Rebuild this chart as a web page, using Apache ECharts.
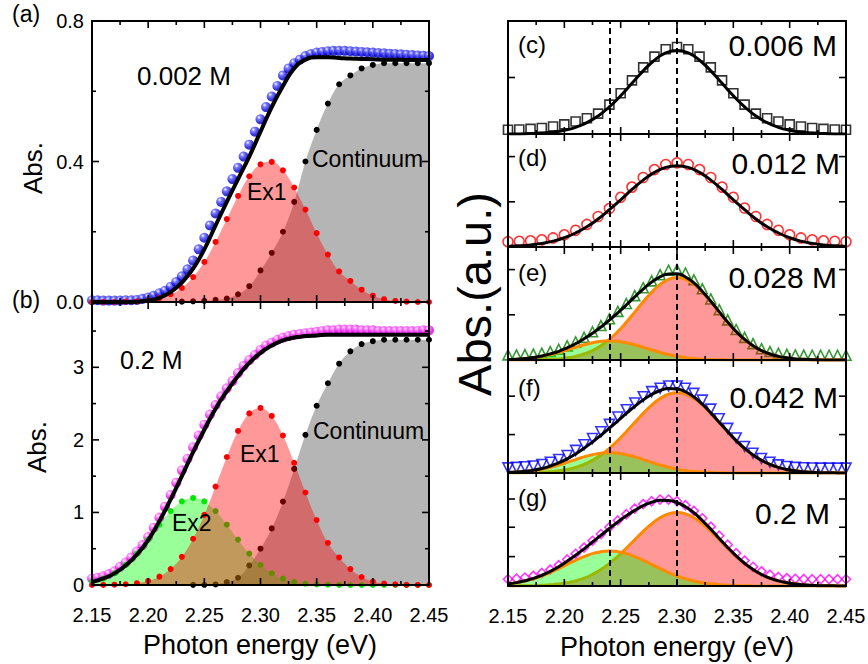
<!DOCTYPE html>
<html>
<head>
<meta charset="utf-8">
<script src="https://cdn.jsdelivr.net/npm/echarts@6/dist/echarts.min.js"></script>
<style>
  html, body { margin: 0; padding: 0; background: #fff; }
  #chart { width: 868px; height: 664px; }
</style>
</head>
<body>
<div id="chart"></div>
<script>
// energy grids (eV)
const x05 = [2.15,2.155,2.16,2.165,2.17,2.175,2.18,2.185,2.19,2.195,2.2,2.205,2.21,2.215,2.22,2.225,2.23,2.235,2.24,2.245,2.25,2.255,2.26,2.265,2.27,2.275,2.28,2.285,2.29,2.295,2.3,2.305,2.31,2.315,2.32,2.325,2.33,2.335,2.34,2.345,2.35,2.355,2.36,2.365,2.37,2.375,2.38,2.385,2.39,2.395,2.4,2.405,2.41,2.415,2.42,2.425,2.43,2.435,2.44,2.445,2.45]
const x01 = [2.15,2.16,2.17,2.18,2.19,2.2,2.21,2.22,2.23,2.24,2.25,2.26,2.27,2.28,2.29,2.3,2.31,2.32,2.33,2.34,2.35,2.36,2.37,2.38,2.39,2.4,2.41,2.42,2.43,2.44,2.45]
const x075 = [2.15,2.1575,2.165,2.1725,2.18,2.1875,2.195,2.2025,2.21,2.2175,2.225,2.2325,2.24,2.2475,2.255,2.2625,2.27,2.2775,2.285,2.2925,2.3,2.3075,2.315,2.3225,2.33,2.3375,2.345,2.3525,2.36,2.3675,2.375,2.3825,2.39,2.3975,2.405,2.4125,2.42,2.4275,2.435,2.4425,2.45]
const dashedAt = [2.24, 2.30]

// tick positions
const xMajor = [2.15, 2.2, 2.25, 2.3, 2.35, 2.4, 2.45]
const xMinor = [2.175, 2.225, 2.275, 2.325, 2.375, 2.425]
const aMajor = [0, 0.4, 0.8]
const aMinor = [0.2, 0.6]
const bMajor = [0, 1, 2, 3]
const bMinor = [0.5, 1.5, 2.5, 3.5]
const cTicks = [0.5]
const dTicks = [0.4, 0.8]
const eTicks = [0.4, 0.8]
const fTicks = [0.34, 0.68]
const gTicks = [0.26, 0.52, 0.77]

// (a) 0.002 M
const aData = [0.005,0.005,0.004,0.004,0.004,0.004,0.005,0.005,0.006,0.009,0.013,0.018,0.025,0.032,0.043,0.057,0.073,0.093,0.118,0.15,0.183,0.218,0.252,0.285,0.315,0.35,0.382,0.414,0.448,0.485,0.52,0.555,0.585,0.615,0.645,0.665,0.68,0.69,0.7,0.706,0.71,0.712,0.714,0.715,0.715,0.715,0.714,0.713,0.712,0.711,0.71,0.709,0.708,0.707,0.706,0.705,0.704,0.703,0.702,0.701,0.7]
const aFit = [0,0,0,0,0.001,0.004,0.012,0.028,0.055,0.095,0.15,0.218,0.285,0.35,0.414,0.485,0.555,0.615,0.665,0.69,0.697,0.697,0.695,0.693,0.692,0.691,0.69,0.69,0.689,0.689,0.689]
const aEx1 = [0,0,0,0.001,0.002,0.005,0.011,0.022,0.04,0.071,0.114,0.171,0.236,0.302,0.358,0.392,0.399,0.375,0.326,0.263,0.196,0.135,0.087,0.06,0.035,0.018,0.008,0.003,0.001,0,0]
const aCont = [null,null,null,null,null,null,null,null,0.001,0.002,0.003,0.006,0.01,0.022,0.045,0.09,0.14,0.2,0.285,0.4,0.49,0.565,0.62,0.645,0.665,0.675,0.68,0.68,0.68,0.68,0.68]

// (b) 0.2 M
const bData = [0.09,0.10,0.12,0.15,0.19,0.25,0.31,0.38,0.46,0.55,0.66,0.79,0.93,1.08,1.24,1.41,1.58,1.74,1.90,2.06,2.21,2.35,2.48,2.60,2.71,2.81,2.92,3.02,3.10,3.17,3.24,3.30,3.34,3.38,3.41,3.43,3.45,3.46,3.47,3.48,3.49,3.50,3.51,3.51,3.52,3.52,3.52,3.52,3.51,3.51,3.51,3.50,3.50,3.50,3.50,3.50,3.50,3.50,3.50,3.51,3.51]
const bFit = [0.04,0.09,0.16,0.27,0.42,0.62,0.88,1.18,1.5,1.83,2.14,2.43,2.67,2.88,3.06,3.2,3.3,3.37,3.41,3.43,3.44,3.45,3.45,3.45,3.45,3.45,3.45,3.45,3.45,3.45,3.45]
const bEx1 = [0,0.001,0.004,0.01,0.025,0.056,0.115,0.219,0.388,0.637,0.966,1.357,1.764,2.123,2.365,2.44,2.33,2.06,1.684,1.275,0.895,0.58,0.38,0.22,0.11,0.048,0.021,0.009,0.003,0.001,0]
const bEx2 = [0.044,0.088,0.162,0.276,0.432,0.625,0.831,1.019,1.152,1.2,1.152,1.019,0.831,0.625,0.432,0.276,0.162,0.088,0.044,0.02,0.009,0.004,0.001,0,0,0,0,0,0,0,0]
const bCont = [null,null,null,null,null,null,null,null,null,0.002,0.003,0.008,0.04,0.1,0.27,0.5,0.78,1.15,1.6,2.07,2.47,2.78,3.05,3.22,3.32,3.36,3.38,3.38,3.38,3.38,3.38]

// (c) 0.006 M, (d) 0.012 M  (normalised)
const cData = [0.037,0.04,0.045,0.053,0.066,0.085,0.11,0.14,0.18,0.26,0.36,0.475,0.59,0.685,0.75,0.77,0.75,0.685,0.59,0.475,0.36,0.26,0.18,0.14,0.11,0.085,0.066,0.053,0.045,0.04,0.037]
const cFit = [0.001,0.001,0.004,0.008,0.017,0.033,0.059,0.1,0.16,0.24,0.339,0.449,0.559,0.653,0.717,0.74,0.717,0.653,0.559,0.449,0.339,0.24,0.16,0.1,0.059,0.033,0.017,0.008,0.004,0.001,0.001]
const dData = [0.047,0.05,0.055,0.064,0.08,0.108,0.148,0.2,0.27,0.34,0.44,0.53,0.615,0.685,0.73,0.745,0.73,0.685,0.615,0.53,0.44,0.345,0.27,0.2,0.148,0.108,0.08,0.064,0.055,0.05,0.047]
const dFit = [0.005,0.01,0.018,0.032,0.052,0.082,0.124,0.179,0.248,0.33,0.418,0.509,0.592,0.66,0.705,0.72,0.705,0.66,0.592,0.509,0.418,0.33,0.248,0.179,0.124,0.082,0.052,0.032,0.018,0.01,0.005]

// (e) 0.028 M
const eData = [0.045,0.045,0.048,0.052,0.06,0.075,0.095,0.125,0.16,0.2,0.25,0.305,0.365,0.43,0.5,0.57,0.64,0.7,0.755,0.795,0.8,0.77,0.71,0.63,0.54,0.445,0.355,0.27,0.2,0.145,0.1,0.075,0.06,0.05,0.045,0.043,0.042,0.042,0.042,0.042,0.042]
const eFit = [0.004,0.007,0.014,0.022,0.036,0.054,0.077,0.108,0.144,0.188,0.236,0.292,0.352,0.418,0.487,0.559,0.628,0.689,0.736,0.762,0.763,0.735,0.682,0.607,0.52,0.426,0.335,0.252,0.182,0.126,0.083,0.053,0.032,0.019,0.01,0.006,0.003,0.001,0.001,0,0]
const eEx1 = [0,0,0.001,0.001,0.003,0.006,0.01,0.019,0.032,0.053,0.083,0.126,0.182,0.252,0.334,0.424,0.516,0.6,0.669,0.714,0.73,0.714,0.669,0.6,0.516,0.424,0.334,0.252,0.182,0.126,0.083,0.053,0.032,0.019,0.01,0.006,0.003,0.001,0.001,0,0]
const eEx2 = [0.004,0.007,0.013,0.021,0.033,0.048,0.067,0.089,0.112,0.135,0.153,0.166,0.17,0.166,0.153,0.135,0.112,0.089,0.067,0.048,0.033,0.021,0.013,0.007,0.004,0.002,0.001,0,0,0,0,0,0,0,0,0,0,0,0,0,0]

// (f) 0.042 M
const fData = [0.045,0.05,0.055,0.062,0.075,0.095,0.12,0.155,0.2,0.25,0.305,0.365,0.43,0.495,0.56,0.62,0.675,0.72,0.75,0.77,0.77,0.75,0.705,0.645,0.565,0.48,0.395,0.31,0.235,0.175,0.128,0.095,0.072,0.058,0.05,0.046,0.044,0.043,0.043,0.043,0.043]
const fFit = [0.004,0.009,0.016,0.025,0.04,0.062,0.09,0.125,0.169,0.219,0.274,0.334,0.397,0.462,0.527,0.59,0.647,0.695,0.73,0.748,0.744,0.719,0.673,0.609,0.532,0.449,0.366,0.287,0.217,0.159,0.112,0.076,0.05,0.031,0.019,0.011,0.006,0.003,0.002,0.001,0]
const fEx1 = [0,0.001,0.002,0.003,0.006,0.011,0.019,0.031,0.05,0.076,0.112,0.159,0.217,0.287,0.365,0.447,0.528,0.601,0.659,0.697,0.71,0.697,0.659,0.601,0.528,0.447,0.365,0.287,0.217,0.159,0.112,0.076,0.05,0.031,0.019,0.011,0.006,0.003,0.002,0.001,0]
const fEx2 = [0.004,0.008,0.014,0.022,0.034,0.051,0.071,0.094,0.119,0.143,0.162,0.175,0.18,0.175,0.162,0.143,0.119,0.094,0.071,0.051,0.034,0.022,0.014,0.008,0.004,0.002,0.001,0,0,0,0,0,0,0,0,0,0,0,0,0,0]

// (g) 0.2 M
const gData = [0.06,0.065,0.075,0.09,0.115,0.145,0.185,0.235,0.285,0.34,0.4,0.46,0.52,0.58,0.635,0.685,0.725,0.75,0.765,0.765,0.75,0.715,0.665,0.6,0.525,0.445,0.365,0.29,0.225,0.17,0.13,0.1,0.08,0.07,0.064,0.062,0.06,0.06,0.06,0.06,0.06]
const gFit = [0.019,0.03,0.046,0.067,0.095,0.129,0.171,0.22,0.272,0.329,0.389,0.449,0.509,0.567,0.621,0.669,0.711,0.741,0.758,0.757,0.739,0.702,0.648,0.579,0.503,0.421,0.341,0.267,0.201,0.146,0.102,0.069,0.045,0.029,0.017,0.01,0.006,0.003,0.002,0.001,0]
const gEx1 = [0,0.001,0.002,0.003,0.006,0.01,0.017,0.029,0.045,0.069,0.102,0.145,0.199,0.263,0.334,0.409,0.484,0.55,0.604,0.638,0.65,0.638,0.604,0.55,0.484,0.409,0.334,0.263,0.199,0.145,0.102,0.069,0.045,0.029,0.017,0.01,0.006,0.003,0.002,0.001,0]
const gEx2 = [0.019,0.029,0.044,0.064,0.089,0.119,0.154,0.191,0.227,0.26,0.287,0.304,0.31,0.304,0.287,0.26,0.227,0.191,0.154,0.119,0.089,0.064,0.044,0.029,0.019,0.012,0.007,0.004,0.002,0.001,0,0,0,0,0,0,0,0,0,0,0]

const FONT = '"Liberation Sans", Arial, sans-serif'
const X_MIN = 2.15
const X_MAX = 2.45
const pairs = (xs, ys) => xs.map((x, i) => [x, ys[i]])

const grids = []
const xAxes = []
const yAxes = []
const series = []
const panels = []

const axisLine = { show: true, onZero: false, lineStyle: { color: '#000', width: 2 } }
const off = { show: false }

// one framed panel: bottom/top x axes, left/right y axes; ticks are drawn afterwards
function addPanel (box, y, showX, yMajor, yMinor) {
  const g = grids.length
  grids.push({ left: box[0], top: box[1], width: box[2], height: box[3], outerBoundsMode: 'none' })
  const common = { gridIndex: g, type: 'value', z: 10, axisLine, axisTick: off, minorTick: off, splitLine: off, minorSplitLine: off }
  const xr = { ...common, min: X_MIN, max: X_MAX, interval: 0.05 }
  const yr = { ...common, min: 0, max: y.max, interval: y.interval }
  const xi = xAxes.length
  const yi = yAxes.length
  xAxes.push({
    ...xr, position: 'bottom',
    axisLabel: showX
      ? { show: true, margin: 20, fontSize: 20, color: '#000', fontFamily: FONT, formatter: v => v.toFixed(2) }
      : off
  })
  xAxes.push({ ...xr, position: 'top', axisLabel: off })
  yAxes.push({
    ...yr, position: 'left',
    axisLabel: y.fmt
      ? { show: true, margin: 8, fontSize: 20, color: '#000', fontFamily: FONT, formatter: y.fmt }
      : off
  })
  yAxes.push({ ...yr, position: 'right', axisLabel: off })
  const ax = { xAxisIndex: xi, yAxisIndex: yi }
  panels.push({ ax, box, ymax: y.max, yMajor, yMinor })
  return ax
}

function sphere (mid, dark) {
  return {
    type: 'radial', x: 0.35, y: 0.3, r: 0.75,
    colorStops: [
      { offset: 0, color: '#ffffff' },
      { offset: 0.25, color: mid },
      { offset: 0.7, color: dark },
      { offset: 1, color: dark }
    ]
  }
}

function markers (ax, xs, ys, symbol, size, style, z, rotate) {
  series.push({ ...ax, type: 'scatter', data: pairs(xs, ys), symbol, symbolSize: size, symbolRotate: rotate || 0, itemStyle: style, z, silent: true })
}

function dotArea (ax, xs, ys, fill, dot, z) {
  series.push({
    ...ax, type: 'line', data: pairs(xs, ys), smooth: 0.4, z,
    symbol: 'circle', symbolSize: 6, showSymbol: true,
    itemStyle: { color: dot },
    lineStyle: { opacity: 0 },
    areaStyle: { color: fill, opacity: 1 }
  })
}

function peakArea (ax, xs, ys, fill, z) {
  series.push({
    ...ax, type: 'line', data: pairs(xs, ys), smooth: true, z, showSymbol: false,
    lineStyle: { color: '#ff8a00', width: 3 },
    areaStyle: { color: fill, opacity: 1 }
  })
}

function fitLine (ax, xs, ys, width, z, dashed) {
  const s = { ...ax, type: 'line', data: pairs(xs, ys), smooth: true, showSymbol: false, z, lineStyle: { color: '#000', width } }
  if (dashed) {
    s.markLine = {
      silent: true, symbol: 'none', label: { show: false },
      lineStyle: { color: '#000', width: 2, type: [6, 4] },
      data: dashedAt.map(v => ({ xAxis: v }))
    }
  }
  series.push(s)
}

const RED = 'rgba(255,0,0,0.4)'
const GREEN = 'rgba(0,255,0,0.4)'
const GRAY = '#b5b5b5'

// left column
const pa = addPanel([92, 21, 337, 281], { max: 0.8, interval: 0.4, fmt: v => v.toFixed(1) }, false, aMajor, aMinor)
markers(pa, x05, aData, 'circle', 10, { color: sphere('#6060ff', '#0000d0') }, 2)
dotArea(pa, x01, aCont, GRAY, '#000', 3)
dotArea(pa, x01, aEx1, RED, '#ff0000', 4)
fitLine(pa, x01, aFit, 4, 6)

const pb = addPanel([92, 302, 337, 283], { max: 3.9, interval: 1, fmt: v => (Number.isInteger(v) ? String(v) : '') }, true, bMajor, bMinor)
markers(pb, x05, bData, 'circle', 10, { color: sphere('#ff70ff', '#e000e0') }, 2)
dotArea(pb, x01, bCont, GRAY, '#000', 3)
dotArea(pb, x01, bEx2, GREEN, '#00e800', 4)
dotArea(pb, x01, bEx1, RED, '#ff0000', 5)
fitLine(pb, x01, bFit, 4, 6)

// right column
const hollow = c => ({ color: 'rgba(0,0,0,0)', borderColor: c, borderWidth: 1.6 })
const pc = addPanel([508, 21, 338, 113], { max: 1, interval: 0.5 }, false, cTicks)
markers(pc, x01, cData, 'rect', 9, hollow('#000'), 2)
fitLine(pc, x01, cFit, 3, 6, true)

const pd = addPanel([508, 134, 338, 113], { max: 1, interval: 0.5 }, false, dTicks)
markers(pd, x01, dData, 'circle', 10, hollow('#ff0000'), 2)
fitLine(pd, x01, dFit, 3, 6, true)

const pe = addPanel([508, 247, 338, 113], { max: 1, interval: 0.5 }, false, eTicks)
markers(pe, x075, eData, 'triangle', 10, hollow('#008000'), 2)
peakArea(pe, x075, eEx1, RED, 3)
peakArea(pe, x075, eEx2, GREEN, 4)
fitLine(pe, x075, eFit, 3, 6, true)

const pf = addPanel([508, 360, 338, 113], { max: 1, interval: 0.5 }, false, fTicks)
markers(pf, x075, fData, 'triangle', 10, hollow('#0000ff'), 2, 180)
peakArea(pf, x075, fEx1, RED, 3)
peakArea(pf, x075, fEx2, GREEN, 4)
fitLine(pf, x075, fFit, 3, 6, true)

const pg = addPanel([508, 473, 338, 113], { max: 1, interval: 0.5 }, true, gTicks)
markers(pg, x075, gData, 'diamond', 9, hollow('#ff00ff'), 2)
peakArea(pg, x075, gEx1, RED, 3)
peakArea(pg, x075, gEx2, GREEN, 4)
fitLine(pg, x075, gFit, 3, 6, true)

// texts
function txt (text, x, y, size, align, rotate) {
  return {
    type: 'text', x, y, z: 100, rotation: rotate ? Math.PI / 2 : 0,
    style: { text, fill: '#000', fontSize: size, fontFamily: FONT, align: align || 'left', verticalAlign: 'middle' }
  }
}
const texts = [
  txt('(a)', 12, 14, 23),
  txt('(b)', 12, 300, 23),
  txt('Abs.', 33, 168, 26, 'center', true),
  txt('Abs.', 37, 447, 26, 'center', true),
  txt('0.002 M', 137, 76, 26),
  txt('Ex1', 247, 192, 23),
  txt('Continuum', 312, 159, 23),
  txt('0.2 M', 120, 360, 25),
  txt('Ex1', 240, 454, 23),
  txt('Ex2', 172, 523, 23),
  txt('Continuum', 313, 431, 23),
  txt('Photon energy (eV)', 260, 645, 27, 'center'),
  txt('Photon energy (eV)', 677, 647, 27, 'center'),
  txt('Abs.(a.u.)', 474, 294, 47, 'center', true),
  txt('(c)', 518, 44, 24),
  txt('0.006 M', 837, 45, 30, 'right'),
  txt('(d)', 518, 157, 24),
  txt('0.012 M', 840, 163, 30, 'right'),
  txt('(e)', 518, 272, 24),
  txt('0.028 M', 837, 277, 30, 'right'),
  txt('(f)', 518, 387, 24),
  txt('0.042 M', 838, 397, 30, 'right'),
  txt('(g)', 518, 497, 24),
  txt('0.2 M', 830, 513, 30, 'right')
]

const chart = echarts.init(document.getElementById('chart'), null, { renderer: 'svg' })
chart.setOption({
  animation: false,
  backgroundColor: '#fff',
  textStyle: { fontFamily: FONT },
  grid: grids,
  xAxis: xAxes,
  yAxis: yAxes,
  series
})

// pixel of an axis value; falls back to the panel's linear extent if the lookup fails
function toPx (finder, v, idx, fallback) {
  let r = null
  try {
    r = chart.convertToPixel(finder, v)
  } catch (e) {
    r = null
  }
  if (Array.isArray(r)) r = r[idx]
  return Number.isFinite(r) ? r : fallback
}

// inward ticks on all four edges, drawn as thin filled bars
const TW = 1.6
const bar = (x, y, w, h) => ({ type: 'rect', z: 90, silent: true, shape: { x, y, width: w, height: h }, style: { fill: '#000' } })
const ticks = []
panels.forEach(p => {
  const [left, top, w, h] = p.box
  const bottom = top + h
  const right = left + w
  const xt = (vals, len) => vals.forEach(v => {
    const px = toPx({ xAxisIndex: p.ax.xAxisIndex }, v, 0, left + (v - X_MIN) / (X_MAX - X_MIN) * w)
    ticks.push(bar(px - TW / 2, bottom - len, TW, len), bar(px - TW / 2, top, TW, len))
  })
  const yt = (vals, len) => vals.forEach(v => {
    const py = toPx({ yAxisIndex: p.ax.yAxisIndex }, v, 1, bottom - v / p.ymax * h)
    ticks.push(bar(left, py - TW / 2, len, TW), bar(right - len, py - TW / 2, len, TW))
  })
  xt(xMajor, 7)
  xt(xMinor, 4)
  yt(p.yMajor, 7)
  if (p.yMinor) yt(p.yMinor, 4)
})

chart.setOption({ graphic: texts.concat(ticks) })
</script>
</body>
</html>
